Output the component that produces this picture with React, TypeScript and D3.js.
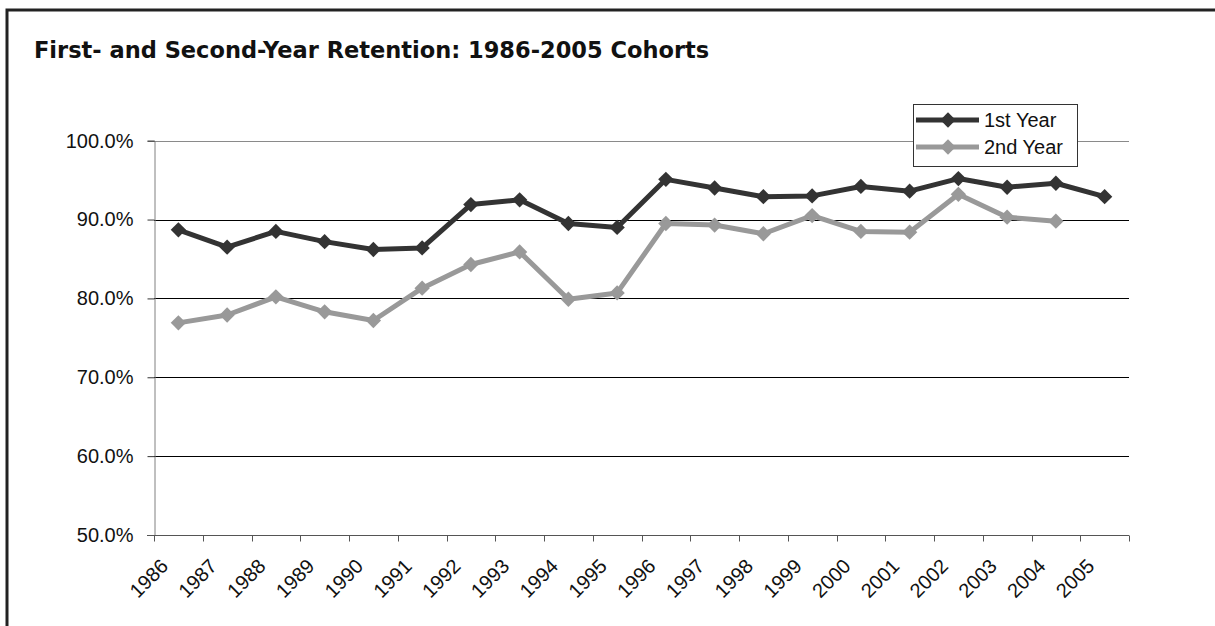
import { useEffect, useRef } from 'react';
import * as d3 from 'd3';

const years = [
  '1986', '1987', '1988', '1989', '1990', '1991', '1992', '1993', '1994', '1995',
  '1996', '1997', '1998', '1999', '2000', '2001', '2002', '2003', '2004', '2005',
];

const firstYear = [
  0.887, 0.865, 0.885, 0.872, 0.862, 0.864, 0.919, 0.925, 0.895, 0.890,
  0.951, 0.940, 0.929, 0.930, 0.942, 0.936, 0.952, 0.941, 0.946, 0.929,
];

const secondYear: (number | null)[] = [
  0.769, 0.779, 0.802, 0.783, 0.772, 0.813, 0.843, 0.859, 0.799, 0.807,
  0.895, 0.893, 0.882, 0.905, 0.885, 0.884, 0.932, 0.903, 0.898, null,
];

const yTicks = [0.5, 0.6, 0.7, 0.8, 0.9, 1.0];

const seriesNames = ['1st Year', '2nd Year'];
const seriesColors = ['#333333', '#999999'];

export default function App() {
  const svgRef = useRef<SVGSVGElement>(null);
  const width = 1215;
  const height = 626;

  useEffect(() => {
    if (!svgRef.current) return;
    const svg = d3.select(svgRef.current);
    svg.selectAll('*').remove();

    const font = '"Liberation Sans", Arial, sans-serif';

    // outer frame (only top and left edges show in the crop)
    svg.append('path')
      .attr('d', `M7,${height + 5}V10H${width + 5}`)
      .attr('fill', 'none')
      .attr('stroke', '#222')
      .attr('stroke-width', 3);

    svg.append('text')
      .attr('x', 34)
      .attr('y', 58)
      .style('font-family', '"DejaVu Sans", sans-serif')
      .style('font-weight', 'bold')
      .style('font-size', '22.5px')
      .style('fill', '#111')
      .text('First- and Second-Year Retention: 1986-2005 Cohorts');

    const x = d3.scaleBand().domain(years).range([154, 1129]).padding(0);
    const y = d3.scaleLinear().domain([0.5, 1.0]).range([535, 140.7]);
    const cx = (yr: string) => (x(yr) || 0) + x.bandwidth() / 2;

    // gridlines
    svg.append('g')
      .selectAll('line')
      .data(yTicks.filter(t => t > 0.5))
      .join('line')
      .attr('x1', 154)
      .attr('x2', 1129)
      .attr('y1', d => Math.round(y(d)) + 0.5)
      .attr('y2', d => Math.round(y(d)) + 0.5)
      .attr('stroke', d => (d === 1.0 ? '#8a8a8a' : '#000'))
      .attr('stroke-width', 1);

    // y axis
    const yAxis = svg.append('g')
      .attr('transform', 'translate(154.5,0)')
      .call(
        d3.axisLeft(y)
          .tickValues(yTicks)
          .tickFormat(d3.format('.1%'))
          .tickSize(7)
          .tickPadding(14)
      );
    yAxis.select('.domain').attr('stroke', '#808080');
    yAxis.selectAll('.tick line').attr('stroke', '#333');
    yAxis.selectAll('text')
      .style('font-family', font)
      .style('font-size', '20px')
      .style('fill', '#111');

    // x axis
    const xAxis = svg.append('g').attr('transform', 'translate(0,535.5)');
    xAxis.append('line')
      .attr('x1', 147)
      .attr('x2', 1129)
      .attr('stroke', '#555');
    xAxis.selectAll('line.tk')
      .data([...years.map(d => x(d) || 0), 1129])
      .join('line')
      .attr('class', 'tk')
      .attr('x1', d => Math.round(d) + 0.5)
      .attr('x2', d => Math.round(d) + 0.5)
      .attr('y1', 0)
      .attr('y2', 6)
      .attr('stroke', '#555');
    xAxis.selectAll('text')
      .data(years)
      .join('text')
      .attr('transform', d => `translate(${cx(d) - 9},${32}) rotate(-45)`)
      .attr('text-anchor', 'end')
      .style('font-family', font)
      .style('font-size', '20px')
      .style('fill', '#111')
      .text(d => d);

    const diamond = d3.symbol().type(d3.symbolDiamond2).size(150);

    const drawSeries = (values: (number | null)[], color: string) => {
      const pts = years
        .map((yr, i) => ({ yr, v: values[i] }))
        .filter(p => p.v !== null) as { yr: string; v: number }[];
      const line = d3.line<{ yr: string; v: number }>()
        .x(p => cx(p.yr))
        .y(p => y(p.v));
      svg.append('path')
        .datum(pts)
        .attr('d', line)
        .attr('fill', 'none')
        .attr('stroke', color)
        .attr('stroke-width', 5)
        .attr('stroke-linejoin', 'round');
      svg.append('g')
        .selectAll('path')
        .data(pts)
        .join('path')
        .attr('d', diamond)
        .attr('transform', p => `translate(${cx(p.yr)},${y(p.v)})`)
        .attr('fill', color);
    };

    drawSeries(secondYear, seriesColors[1]);
    drawSeries(firstYear, seriesColors[0]);

    // legend
    const lg = svg.append('g').attr('transform', 'translate(913,104)');
    lg.append('rect')
      .attr('x', 0.5)
      .attr('y', 0.5)
      .attr('width', 164)
      .attr('height', 62)
      .attr('fill', '#fff')
      .attr('stroke', '#333');
    seriesNames.forEach((name, i) => {
      const ry = 16 + i * 27;
      lg.append('line')
        .attr('x1', 3)
        .attr('x2', 66)
        .attr('y1', ry)
        .attr('y2', ry)
        .attr('stroke', seriesColors[i])
        .attr('stroke-width', 5);
      lg.append('path')
        .attr('d', diamond)
        .attr('transform', `translate(35,${ry})`)
        .attr('fill', seriesColors[i]);
      lg.append('text')
        .attr('x', 71)
        .attr('y', ry + 7)
        .style('font-family', font)
        .style('font-size', '20px')
        .style('fill', '#111')
        .text(name);
    });
  }, []);

  return (
    <div style={{ position: 'absolute', left: 0, top: 0, background: '#fff' }}>
      <svg ref={svgRef} width={width} height={height} style={{ display: 'block' }} />
    </div>
  );
}
